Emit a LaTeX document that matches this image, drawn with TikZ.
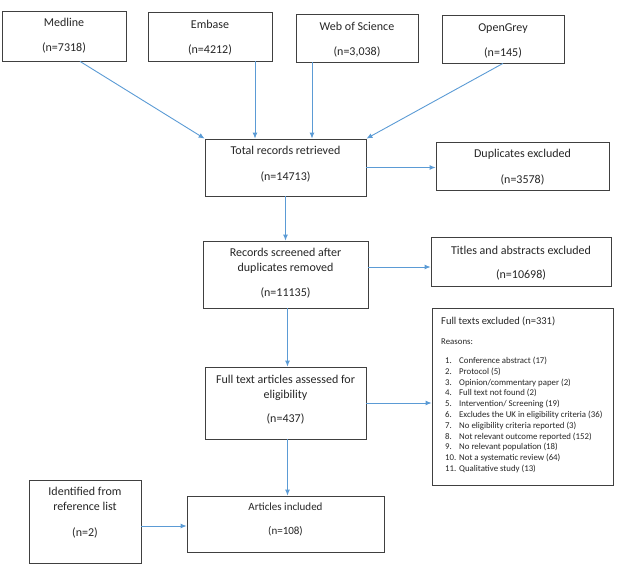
\documentclass[tikz,border=0pt]{standalone}
\usepackage{fontspec}
\setmainfont{Carlito}
\usetikzlibrary{arrows.meta}
\definecolor{arrc}{HTML}{5B9BD5}
\definecolor{boxc}{HTML}{404040}
\definecolor{txtc}{HTML}{262626}
\begin{document}
\begin{tikzpicture}[x=1pt,y=-1pt,
  box/.style={draw=boxc, line width=0.8pt, inner sep=0pt, fill=white},
  txt/.style={text=txtc, align=center, inner sep=0pt, font=\fontsize{12}{15}\selectfont},
  small/.style={text=txtc, inner sep=0pt, anchor=west, font=\fontsize{8.8}{10.8}\selectfont, text height=0.72em, text depth=0.22em},
  arr/.style={draw=arrc, line width=0.9pt, -{Latex[length=6pt,width=5pt]}}]
\useasboundingbox (0,0) rectangle (618,571);

% boxes
\node[box, minimum width=124pt, minimum height=50pt] (medline) at (64,36) {};
\node[box, minimum width=124pt, minimum height=49pt] (embase) at (210,36.5) {};
\node[box, minimum width=122pt, minimum height=48pt] (wos) at (357,38) {};
\node[box, minimum width=122pt, minimum height=48pt] (opengrey) at (503,39) {};
\node[box, minimum width=161pt, minimum height=57pt] (total) at (285.5,167.5) {};
\node[box, minimum width=173pt, minimum height=48pt] (dup) at (522.5,166) {};
\node[box, minimum width=165pt, minimum height=67pt] (screened) at (285.5,274.5) {};
\node[box, minimum width=180pt, minimum height=49pt] (titles) at (521,261.5) {};
\node[box, minimum width=161pt, minimum height=72pt] (assessed) at (285.5,403) {};
\node[box, minimum width=181pt, minimum height=177pt] (excl) at (522.5,396.5) {};
\node[box, minimum width=112pt, minimum height=83pt] (identified) at (85,521.5) {};
\node[box, minimum width=197pt, minimum height=56pt] (articles) at (285.5,524) {};

% texts
\node[txt] (medline-t) at (64,35.5) {Medline\\[10pt](n=7318)};
\node[txt] (embase-t) at (210,37.5) {Embase\\[10pt](n=4212)};
\node[txt] (wos-t) at (357,39.5) {Web of Science\\[10pt](n=3,038)};
\node[txt] (opengrey-t) at (503,40.5) {OpenGrey\\[10pt](n=145)};
\node[txt] (total-t) at (285.5,164) {Total records retrieved\\[11pt](n=14713)};
\node[txt] (dup-t) at (522.5,167) {Duplicates excluded\\[11pt](n=3578)};
\node[txt] (screened-t) at (285.5,273) {Records screened after\\duplicates removed\\[10pt](n=11135)};
\node[txt] (titles-t) at (521,263) {Titles and abstracts excluded\\[9pt](n=10698)};
\node[txt] (assessed-t) at (285.5,399.5) {Full text articles assessed for\\eligibility\\[9pt](n=437)};
\node[txt] (identified-t) at (85,512.5) {Identified from\\reference list\\[11pt](n=2)};
\node[txt, font=\fontsize{11}{13.5}\selectfont] (articles-t) at (285.5,519) {Articles included\\[10.5pt](n=108)};

% exclusion list
\node[small, font=\fontsize{10.5}{12}\selectfont] (excl-h) at (441,322) {Full texts excluded (n=331)};
\node[small] (excl-r) at (441,342) {Reasons:};
\node[small] (r1) at (445,361) {\makebox[14pt][l]{1.}Conference abstract (17)};
\node[small] (r2) at (445,371.8) {\makebox[14pt][l]{2.}Protocol (5)};
\node[small] (r3) at (445,382.6) {\makebox[14pt][l]{3.}Opinion/commentary paper (2)};
\node[small] (r4) at (445,393.4) {\makebox[14pt][l]{4.}Full text not found (2)};
\node[small] (r5) at (445,404.2) {\makebox[14pt][l]{5.}Intervention/ Screening (19)};
\node[small] (r6) at (445,415) {\makebox[14pt][l]{6.}Excludes the UK in eligibility criteria (36)};
\node[small] (r7) at (445,425.8) {\makebox[14pt][l]{7.}No eligibility criteria reported (3)};
\node[small] (r8) at (445,436.6) {\makebox[14pt][l]{8.}Not relevant outcome reported (152)};
\node[small] (r9) at (445,447.4) {\makebox[14pt][l]{9.}No relevant population (18)};
\node[small] (r10) at (445,458.2) {\makebox[14pt][l]{10.}Not a systematic review (64)};
\node[small] (r11) at (445,469) {\makebox[14pt][l]{11.}Qualitative study (13)};

% connectors
\draw[arr] ([xshift=16pt]medline.south) -- (total.north west);
\draw[arr] ([xshift=45pt]embase.south) -- ([xshift=45pt]embase.south |- total.north);
\draw[arr] ([xshift=-45pt]wos.south) -- ([xshift=-45pt]wos.south |- total.north);
\draw[arr] (opengrey.south) -- (total.north east);
\draw[arr] (total.east) -- (total.east -| dup.west);
\draw[arr] (total.south) -- (total.south |- screened.north);
\draw[arr] ([yshift=7.5pt]screened.east) -- ([yshift=7.5pt]screened.east -| titles.west);
\draw[arr] ([xshift=2pt]screened.south) -- ([xshift=2pt]screened.south |- assessed.north);
\draw[arr] (assessed.east) -- (assessed.east -| excl.west);
\draw[arr] ([xshift=2pt]assessed.south) -- ([xshift=2pt]assessed.south |- articles.north);
\draw[arr] ([yshift=-4.5pt]identified.east) -- ([yshift=-4.5pt]identified.east -| articles.west);
\end{tikzpicture}
\end{document}
